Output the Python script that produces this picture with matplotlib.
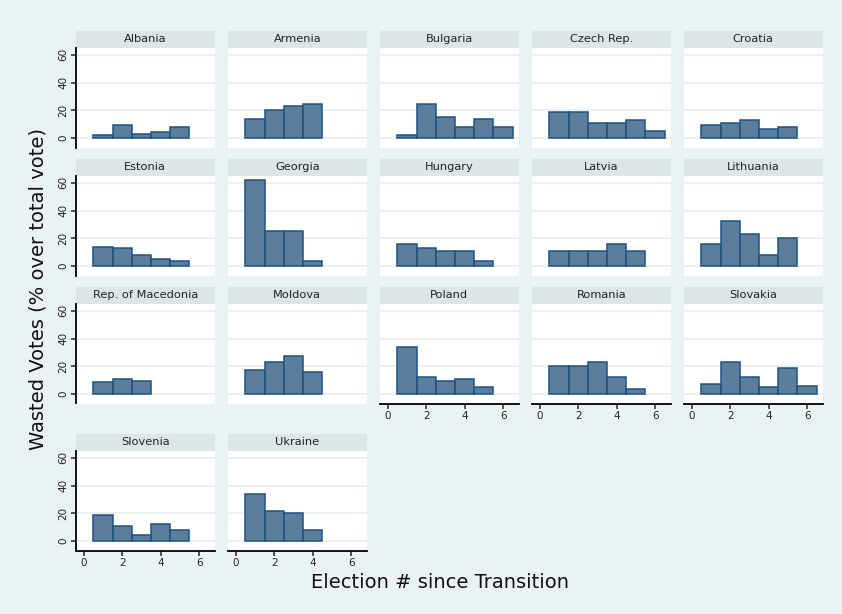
import matplotlib
matplotlib.use("Agg")
import matplotlib.pyplot as plt
import numpy as np

# wasted votes (% over total vote) per election since transition
countries = ["Albania", "Armenia", "Bulgaria", "Czech Rep.", "Croatia",
             "Estonia", "Georgia", "Hungary", "Latvia", "Lithuania",
             "Rep. of Macedonia", "Moldova", "Poland", "Romania", "Slovakia",
             "Slovenia", "Ukraine"]

albania = [1.9, 9.2, 3.1, 4.6, 8.0]
armenia = [14.0, 20.2, 23.1, 24.8]
bulgaria = [2.0, 24.8, 15.4, 7.7, 14.0, 8.0]
czech = [18.8, 18.8, 10.8, 10.8, 12.8, 4.8]
croatia = [9.2, 10.8, 12.8, 6.3, 8.0]
estonia = [14.1, 12.7, 8.2, 5.0, 3.4]
georgia = [61.9, 25.2, 25.2, 3.4]
hungary = [15.6, 12.7, 11.0, 11.0, 3.4]
latvia = [11.0, 11.0, 11.0, 15.6, 11.0]
lithuania = [15.6, 32.6, 23.3, 7.7, 20.1]
macedonia = [8.7, 10.9, 9.2]
moldova = [17.2, 23.2, 27.8, 15.7]
poland = [33.9, 12.3, 9.2, 10.9, 4.8]
romania = [19.9, 19.9, 23.2, 12.3, 3.4]
slovakia = [7.5, 23.2, 12.3, 4.8, 18.6, 6.0]
slovenia = [18.6, 10.7, 4.6, 12.1, 7.7]
ukraine = [33.9, 21.8, 20.1, 7.7]

series = [albania, armenia, bulgaria, czech, croatia,
          estonia, georgia, hungary, latvia, lithuania,
          macedonia, moldova, poland, romania, slovakia,
          slovenia, ukraine]

yticks = [0, 20, 40, 60]
xticks = [0, 2, 4, 6]
with_xaxis = ["Poland", "Romania", "Slovakia", "Slovenia", "Ukraine"]

bg = "#EAF2F3"
head = "#DCE6E8"
fill = "#5B7E9C"
edge = "#1F5282"

W, H = 842, 614
fig = plt.figure(figsize=(W / 100, H / 100), dpi=100, facecolor=bg)

col_left = [76, 228, 380, 532, 684]
row_top = [31, 159, 287, 434]
pw, hh, ph = 138.5, 16.5, 100

for k, (name, vals) in enumerate(zip(countries, series)):
    r, c = divmod(k, 5)
    x0 = col_left[c]
    top = row_top[r]
    # header strip
    hax = fig.add_axes([x0 / W, 1 - (top + hh) / H, pw / W, hh / H])
    hax.set_facecolor(head)
    hax.set_xticks([])
    hax.set_yticks([])
    for s in hax.spines.values():
        s.set_visible(False)
    hax.text(0.5, 0.5, name, ha="center", va="center", fontsize=8.2,
             color="#222222", transform=hax.transAxes)

    ax = fig.add_axes([x0 / W, 1 - (top + hh + ph) / H, pw / W, ph / H])
    ax.set_facecolor("white")
    for y in yticks:
        ax.axhline(y, color=bg, lw=1.4, zorder=1)
    x = np.arange(1, len(vals) + 1)
    ax.bar(x, vals, width=1.0, color=fill, edgecolor=edge, linewidth=1.1, zorder=2)
    ax.set_xlim(-0.4, 6.8)
    ax.set_ylim(-6.8, 65.3)
    for s in ["top", "right"]:
        ax.spines[s].set_visible(False)

    if c == 0:
        ax.spines["left"].set_linewidth(1.3)
        ax.set_yticks(yticks)
        ax.set_yticklabels([str(v) for v in yticks], rotation=90, va="center")
        ax.tick_params(axis="y", length=3.5, width=1.1, labelsize=7.5, pad=2,
                       colors="#222222")
    else:
        ax.spines["left"].set_visible(False)
        ax.set_yticks([])

    if name in with_xaxis:
        ax.spines["bottom"].set_linewidth(1.3)
        ax.set_xticks(xticks)
        ax.tick_params(axis="x", length=3.5, width=1.1, labelsize=7.5, pad=2,
                       colors="#222222")
    else:
        ax.spines["bottom"].set_visible(False)
        ax.set_xticks([])

fig.text(440 / W, 1 - 582 / H, "Election # since Transition", ha="center",
         va="center", fontsize=14, color="#111111")
fig.text(38 / W, 1 - 289 / H, "Wasted Votes (% over total vote)", ha="center",
         va="center", rotation=90, fontsize=14, color="#111111")

fig.savefig("out.png", dpi=100, facecolor=bg)
